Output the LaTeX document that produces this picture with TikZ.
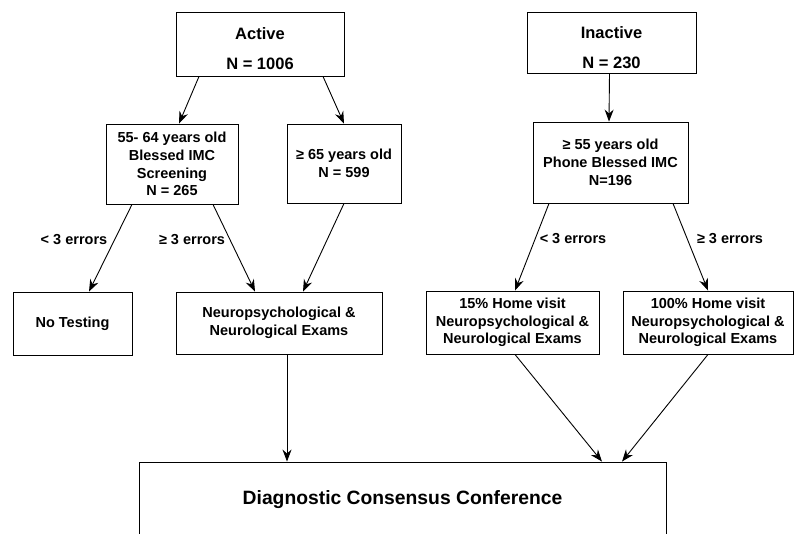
\documentclass[tikz,border=0pt]{standalone}
\usepackage{fontspec}
\setmainfont{Liberation Sans}
\usetikzlibrary{arrows.meta,calc}

\tikzset{
    box/.style={draw, line width=0.9pt, align=center, inner sep=2pt,
        font=\bfseries\fontsize{14.5}{17.7}\selectfont},
    flow/.style={-{Stealth[length=12pt,width=9pt,inset=4pt]}, line width=0.9pt},
    lbl/.style={font=\bfseries\fontsize{14.5}{17}\selectfont}
}

\begin{document}
\begin{tikzpicture}[x=1pt, y=-1pt]
    \clip (0,0) rectangle (795,533);
    \fill[white] (0,0) rectangle (795,533);

    % top row
    \node[box, minimum width=168, minimum height=64, font=\bfseries\fontsize{16.5}{19}\selectfont]
        (active) at (260,44) {\rule{0pt}{21pt}Active\\[11pt]N = 1006};
    \node[box, minimum width=169, minimum height=61, font=\bfseries\fontsize{16.5}{19}\selectfont]
        (inactive) at (611.5,42.5) {\rule{0pt}{22pt}Inactive\\[11pt]N = 230};

    % screening
    \node[box, minimum width=132, minimum height=80] (age1) at (172,164)
        {55- 64 years old\\Blessed IMC\\Screening\\N = 265};
    \node[box, minimum width=114, minimum height=79] (age2) at (344,163.5)
        {≥ 65 years old\\N = 599};
    \node[box, minimum width=155, minimum height=81] (phone) at (610.5,162.5)
        {≥ 55 years old\\Phone Blessed IMC\\N=196};

    % exams
    \node[box, minimum width=119, minimum height=63] (notest) at (72.5,323.5) {No Testing};
    \node[box, minimum width=206, minimum height=62] (neuro) at (279,323)
        {Neuropsychological \&\\Neurological Exams};
    \node[box, minimum width=173, minimum height=63] (home15) at (512.5,322.5)
        {15\% Home visit\\Neuropsychological \&\\Neurological Exams};
    \node[box, minimum width=170, minimum height=63] (home100) at (708,322.5)
        {100\% Home visit\\Neuropsychological \&\\Neurological Exams};

    % consensus
    \node[box, minimum width=527, minimum height=76, font=\bfseries\fontsize{19.3}{22}\selectfont]
        (diag) at (402.5,500) {Diagnostic Consensus Conference};

    \draw[flow] ($(active.south)+(-61,0)$) -- ($(age1.north)+(7,0)$);
    \draw[flow] ($(active.south)+(63,0)$) -- (age2.north);
    \draw[flow] ($(inactive.south)+(-2,0)$) -- ($(phone.north)+(-1.5,0)$);

    \draw[flow] ($(age1.south)+(-40,0)$) -- ($(notest.north)+(16.5,0)$);
    \draw[flow] ($(age1.south)+(41,0)$) -- ($(neuro.north)+(-24,0)$);
    \draw[flow] (age2.south) -- ($(neuro.north)+(24,0)$);
    \draw[flow] ($(phone.south)+(-61.5,0)$) -- ($(home15.north)+(2.5,0)$);
    \draw[flow] ($(phone.south)+(62.5,0)$) -- (home100.north);

    \draw[flow] ($(neuro.south)+(8,0)$) -- ($(diag.north)+(-115.5,0)$);
    \draw[flow] ($(home15.south)+(2.5,0)$) -- ($(diag.north)+(199.5,0)$);
    \draw[flow] (home100.south) -- ($(diag.north)+(219.5,0)$);

    \node[lbl] (lessA) at (74,240) {< 3 errors};
    \node[lbl] (moreA) at (192,240) {≥ 3 errors};
    \node[lbl] (lessI) at (573,239) {< 3 errors};
    \node[lbl] (moreI) at (730,239) {≥ 3 errors};
\end{tikzpicture}
\end{document}
